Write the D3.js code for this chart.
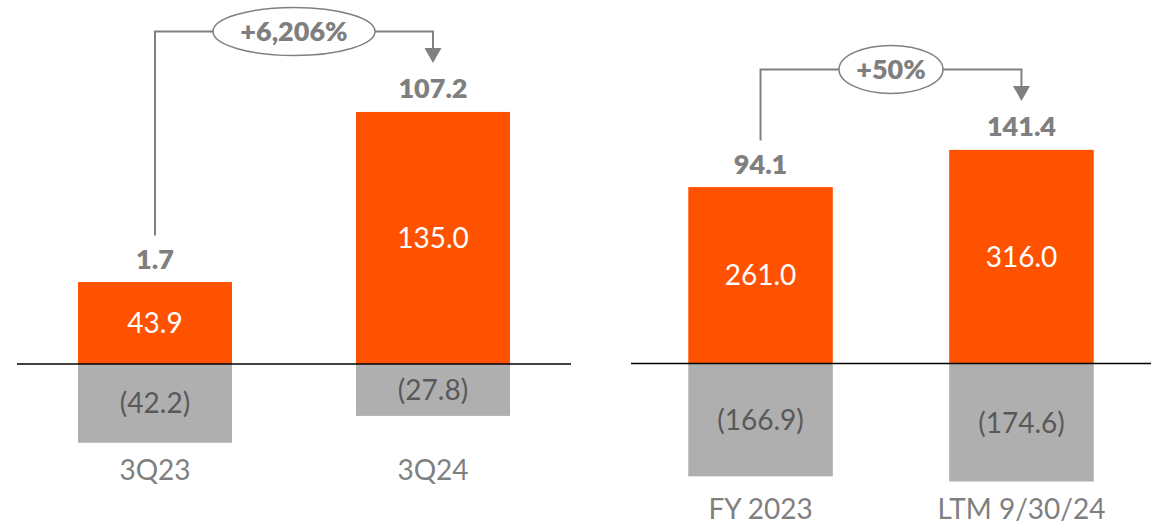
<!DOCTYPE html>
<html>
<head>
<meta charset="utf-8">
<script src="https://cdn.jsdelivr.net/npm/d3@7"></script>
<style>
  html, body { margin: 0; padding: 0; background: #ffffff; }
  svg { display: block; }
  text { font-family: Lato, "Open Sans", sans-serif; }
</style>
</head>
<body>
<svg id="chart" width="1162" height="524"></svg>
<script>
// Quarterly comparison
const quarterCategories = ["3Q23", "3Q24"];
const quarterPositive = [43.9, 135.0];
const quarterNegative = [-42.2, -27.8];

// Annual / trailing twelve months comparison
const annualCategories = ["FY 2023", "LTM 9/30/24"];
const annualPositive = [261.0, 316.0];
const annualNegative = [-166.9, -174.6];

const ORANGE = "#FF5200";
const GREY_BAR = "#AFAFAF";
const GREY_TEXT = "#7F7F7F";
const DARK_TEXT = "#595959";
const LINE_GREY = "#808080";

const svg = d3.select("#chart");

const fmt1 = d3.format(".1f");
const fmtNeg = v => "(" + fmt1(Math.abs(v)) + ")";
const fmtPct = d3.format(",.0%");

const panels = [
  {
    cats: quarterCategories, pos: quarterPositive, neg: quarterNegative,
    xRange: [17, 571],
    yDomain: [-50, 150], yRange: [364 + 50 * 1.867, 364 - 150 * 1.867],
    bubbleRx: 81
  },
  {
    cats: annualCategories, pos: annualPositive, neg: annualNegative,
    xRange: [631, 1151],
    yDomain: [-200, 350], yRange: [363.5 + 200 * 0.676, 363.5 - 350 * 0.676],
    bubbleRx: 52
  }
];

panels.forEach(p => {
  const x = d3.scaleBand().domain(p.cats).range(p.xRange)
    .paddingInner(0.446).paddingOuter(0.2195);
  const y = d3.scaleLinear().domain(p.yDomain).range(p.yRange);
  const g = svg.append("g");

  const rows = p.cats.map((c, i) => ({
    cat: c, pos: p.pos[i], neg: p.neg[i], total: p.pos[i] + p.neg[i]
  }));

  // positive segments
  g.selectAll("rect.pos").data(rows).join("rect")
    .attr("class", "pos")
    .attr("x", d => x(d.cat))
    .attr("width", x.bandwidth())
    .attr("y", d => y(d.pos))
    .attr("height", d => y(0) - y(d.pos))
    .attr("fill", ORANGE);

  // negative segments
  g.selectAll("rect.neg").data(rows).join("rect")
    .attr("class", "neg")
    .attr("x", d => x(d.cat))
    .attr("width", x.bandwidth())
    .attr("y", y(0))
    .attr("height", d => y(d.neg) - y(0))
    .attr("fill", GREY_BAR);

  // zero line
  g.append("line")
    .attr("x1", p.xRange[0]).attr("x2", p.xRange[1])
    .attr("y1", y(0)).attr("y2", y(0))
    .attr("stroke", "#000").attr("stroke-width", 1.5);

  const cx = d => x(d.cat) + x.bandwidth() / 2;

  // values inside segments
  g.selectAll("text.posv").data(rows).join("text")
    .attr("x", cx)
    .attr("y", d => (y(d.pos) + y(0)) / 2)
    .attr("dy", "0.36em")
    .attr("text-anchor", "middle")
    .attr("font-size", 28)
    .attr("fill", "#ffffff")
    .text(d => fmt1(d.pos));

  g.selectAll("text.negv").data(rows).join("text")
    .attr("x", cx)
    .attr("y", d => (y(d.neg) + y(0)) / 2)
    .attr("dy", "0.36em")
    .attr("text-anchor", "middle")
    .attr("font-size", 28)
    .attr("fill", DARK_TEXT)
    .text(d => fmtNeg(d.neg));

  // net totals above the bars
  g.selectAll("text.tot").data(rows).join("text")
    .attr("x", cx)
    .attr("y", d => y(d.pos) - 13.5)
    .attr("text-anchor", "middle")
    .attr("font-size", 27)
    .attr("font-weight", 800)
    .attr("fill", GREY_TEXT)
    .text(d => fmt1(d.total));

  // category labels
  const lowest = d3.min(rows, d => d.neg);
  g.selectAll("text.cat").data(rows).join("text")
    .attr("x", cx)
    .attr("y", y(lowest) + 27)
    .attr("dy", "0.36em")
    .attr("text-anchor", "middle")
    .attr("font-size", 28)
    .attr("fill", GREY_TEXT)
    .text(d => d.cat);

  // growth connector between the two net totals
  const a = rows[0], b = rows[1];
  const top = y(d3.max(rows, d => d.pos)) - 13.5 - 67;
  const x1 = cx(a), x2 = cx(b);
  const startY = y(a.pos) - 46.5;
  const tipY = top + 31.5;
  g.append("path")
    .attr("d", `M${x1},${startY}V${top}H${x2}V${tipY - 14}`)
    .attr("fill", "none")
    .attr("stroke", LINE_GREY)
    .attr("stroke-width", 2);
  g.append("path")
    .attr("d", `M${x2 - 8.5},${tipY - 15}L${x2 + 8.5},${tipY - 15}L${x2},${tipY}Z`)
    .attr("fill", LINE_GREY);

  const mid = (x1 + x2) / 2;
  g.append("ellipse")
    .attr("cx", mid).attr("cy", top)
    .attr("rx", p.bubbleRx).attr("ry", 24)
    .attr("fill", "#ffffff")
    .attr("stroke", LINE_GREY)
    .attr("stroke-width", 1.5);
  g.append("text")
    .attr("x", mid).attr("y", top)
    .attr("dy", "0.36em")
    .attr("text-anchor", "middle")
    .attr("font-size", 27)
    .attr("font-weight", 800)
    .attr("fill", GREY_TEXT)
    .text("+" + fmtPct((b.total - a.total) / a.total));
});
</script>
</body>
</html>
